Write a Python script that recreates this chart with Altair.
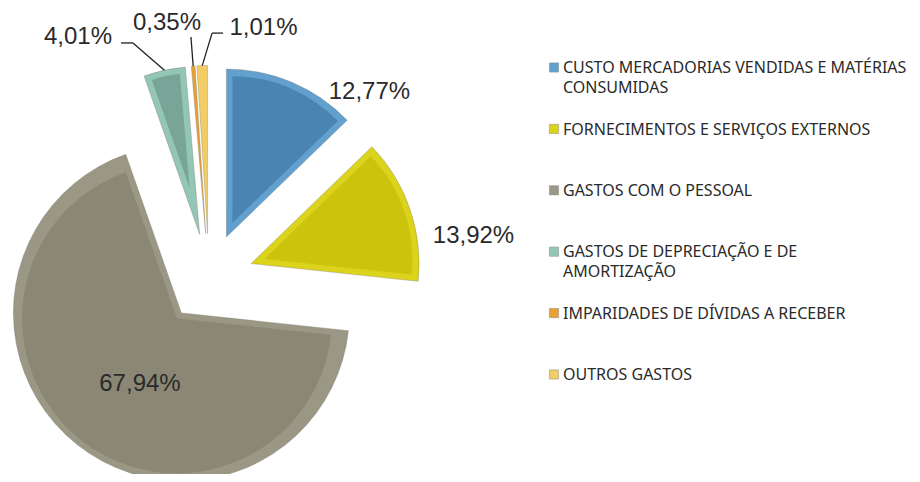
import altair as alt
import pandas as pd

# ---------------- data ----------------
categories = [
    "CUSTO MERCADORIAS VENDIDAS E MATÉRIAS CONSUMIDAS",
    "FORNECIMENTOS E SERVIÇOS EXTERNOS",
    "GASTOS COM O PESSOAL",
    "GASTOS DE DEPRECIAÇÃO E DE AMORTIZAÇÃO",
    "IMPARIDADES DE DÍVIDAS A RECEBER",
    "OUTROS GASTOS",
]
legend_text = [
    "CUSTO MERCADORIAS VENDIDAS E MATÉRIAS\nCONSUMIDAS",
    "FORNECIMENTOS E SERVIÇOS EXTERNOS",
    "GASTOS COM O PESSOAL",
    "GASTOS DE DEPRECIAÇÃO E DE\nAMORTIZAÇÃO",
    "IMPARIDADES DE DÍVIDAS A RECEBER",
    "OUTROS GASTOS",
]
values = [12.77, 13.92, 67.94, 4.01, 0.35, 1.01]
value_labels = ["12,77%", "13,92%", "67,94%", "4,01%", "0,35%", "1,01%"]

# ---------------- styles / layout ----------------
rim_colors = ["#62a0cf", "#dcd41c", "#9a9785", "#94c6b5", "#e8a032", "#f2cd66"]
inner_colors = ["#4a84b2", "#cbc30c", "#8a8775", "#78a597", "#e2982a", "#eec45c"]
# label placement: polar offset (deg clockwise from top, px) from each exploded slice centre
label_angle = [44.7, 82.95, 210.2, 328.3, 349.6, 15.2]
label_radius = [203.4, 224.1, 82.3, 231.6, 214.6, 213.4]
# leader line elbow / end offsets relative to label centre (None = no leader)
elbow_dx = [None, None, None, 55, 24, -51.5]
elbow_dy = [None, None, None, 5.5, 14.5, 5.5]
end_dx = [None, None, None, 43, 24, -40.5]
end_dy = [None, None, None, 5.5, 14.5, 5.5]

CX, CY = 201, 270      # pie centre (px)
R = 168                # pie radius
EXPLODE = 44.5         # explosion distance
INSET = 6              # bevel width
FONT = "Noto Sans"
LABEL_FONT = "Liberation Sans"

df = pd.DataFrame({
    "category": categories,
    "legend": legend_text,
    "value": values,
    "label": value_labels,
    "rim": rim_colors,
    "inner": inner_colors,
    "lab_ang": label_angle,
    "lab_r": label_radius,
    "elb_dx": elbow_dx, "elb_dy": elbow_dy,
    "end_dx": end_dx, "end_dy": end_dy,
    "order": list(range(len(categories))),
})

base = alt.Chart(df).transform_window(
    cum="sum(value)", sort=[alt.SortField("order")], frame=[None, 0]
).transform_calculate(
    t0="(datum.cum - datum.value) / 100 * 2 * PI",
    t1="datum.cum / 100 * 2 * PI",
).transform_calculate(
    mid="(datum.t0 + datum.t1) / 2",
    half="(datum.t1 - datum.t0) / 2",
).transform_calculate(
    cx=f"{CX} + {EXPLODE} * sin(datum.mid)",
    cy=f"{CY} - {EXPLODE} * cos(datum.mid)",
).transform_calculate(
    ex=f"datum.cx + {R} * sin(datum.mid)",
    ey=f"datum.cy - {R} * cos(datum.mid)",
    lx="datum.cx + datum.lab_r * sin(datum.lab_ang * PI / 180)",
    ly="datum.cy - datum.lab_r * cos(datum.lab_ang * PI / 180)",
    shift=f"{INSET} / sin(min(datum.half, PI/2) < 0.01 ? 0.01 : datum.half)",
)

slices = base.mark_arc(stroke="#7d7b6c", strokeWidth=0.6, strokeOpacity=0.6).encode(
    x=alt.X("cx:Q", scale=None, axis=None),
    y=alt.Y("cy:Q", scale=None, axis=None),
    theta=alt.Theta("t0:Q", scale=None),
    theta2=alt.Theta2("t1:Q"),
    radius=alt.value(R),
    color=alt.Color("rim:N", scale=None, legend=None),
)

inner = base.transform_filter("datum.value >= 3").transform_calculate(
    ix="datum.cx + datum.shift * sin(datum.mid)",
    iy="datum.cy - datum.shift * cos(datum.mid)",
    ri=f"{R} - datum.shift - {INSET}",
).mark_arc().encode(
    x=alt.X("ix:Q", scale=None, axis=None),
    y=alt.Y("iy:Q", scale=None, axis=None),
    theta=alt.Theta("t0:Q", scale=None),
    theta2=alt.Theta2("t1:Q"),
    radius=alt.Radius("ri:Q", scale=None),
    color=alt.Color("inner:N", scale=None, legend=None),
)

labels = base.mark_text(font=LABEL_FONT, fontSize=24, color="#2a2a2a",
                        align="center", baseline="middle").encode(
    x=alt.X("lx:Q", scale=None, axis=None),
    y=alt.Y("ly:Q", scale=None, axis=None),
    text="label:N",
)

leaders_base = base.transform_filter("isValid(datum.elb_dx)").transform_calculate(
    bx="datum.lx + datum.elb_dx",
    by="datum.ly + datum.elb_dy",
    nx="datum.lx + datum.end_dx",
    ny="datum.ly + datum.end_dy",
)
leader1 = leaders_base.mark_rule(color="#222", strokeWidth=1.3).encode(
    x=alt.X("ex:Q", scale=None, axis=None),
    y=alt.Y("ey:Q", scale=None, axis=None),
    x2="bx:Q", y2="by:Q",
)
leader2 = leaders_base.mark_rule(color="#222", strokeWidth=1.3).encode(
    x=alt.X("bx:Q", scale=None, axis=None),
    y=alt.Y("by:Q", scale=None, axis=None),
    x2="nx:Q", y2="ny:Q",
)

# manual legend
LEG_X, LEG_Y0, LEG_STEP = 546, 59.5, 61.4
legend_base = alt.Chart(df).transform_calculate(
    gy=f"{LEG_Y0} + datum.order * {LEG_STEP}",
    gty=f"{LEG_Y0} + 5.7 + datum.order * {LEG_STEP}",
)
legend_sym = legend_base.mark_square(size=85, stroke="#888", strokeWidth=0.5, opacity=1).encode(
    x=alt.value(LEG_X),
    y=alt.Y("gy:Q", scale=None, axis=None),
    color=alt.Color("rim:N", scale=None, legend=None),
)
legend_txt = legend_base.mark_text(font=FONT, fontSize=16, color="#2a2a2a", align="left",
                                   baseline="alphabetic", lineBreak="\n", lineHeight=20).encode(
    x=alt.value(LEG_X + 9),
    y=alt.Y("gty:Q", scale=None, axis=None),
    text="legend:N",
)

chart = alt.layer(slices, inner, leader1, leader2, labels, legend_sym, legend_txt).properties(
    width=904, height=466, padding=0, autosize=alt.AutoSizeParams(type="none"),
    background="white",
).configure_view(stroke=None)

chart.save("out.html", embed_options={"renderer": "svg", "actions": False})
